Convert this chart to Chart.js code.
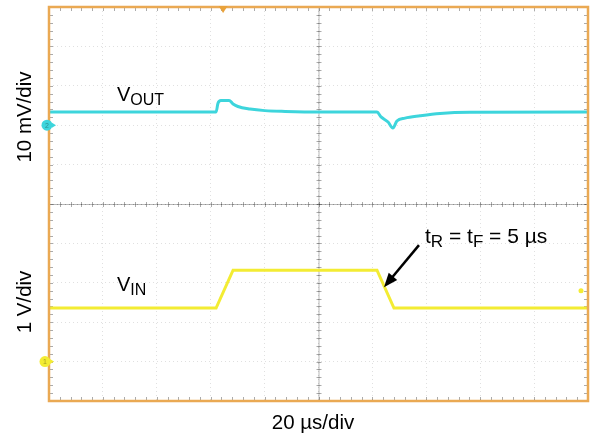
<!DOCTYPE html>
<html>
<head>
<meta charset="utf-8">
<title>VIN step response</title>
<script src="https://cdn.jsdelivr.net/npm/chart.js"></script>
<style>
  html, body { margin: 0; padding: 0; background: #fff; }
  #wrap { width: 591px; height: 435px; position: relative; }
</style>
</head>
<body>
<div id="wrap"><canvas id="scope"></canvas></div>
<script>
// time axis: 10 div x 20 us
const timeMin = 0;
const timeMax = 200;
const timeStep = 20;

// VIN (1 V/div) - trapezoid step, tR = tF = 5 us
const vinTime = [0, 62, 68.3, 121.7, 128, 200];
const vinVolts = [1.36, 1.36, 2.32, 2.32, 1.36, 1.36];

// VOUT (10 mV/div, AC) - load transient response
const voutTime = [0, 62.0, 62.7, 63.8, 66.8, 68.3, 70.1, 74.6, 80.1, 87.6, 100.6,
                  121.7, 123.2, 125.8, 127.6, 129.1, 132.1, 137.7, 145.1, 156.2, 200];
const voutMv = [3.35, 3.35, 5.6, 6.3, 6.3, 5.4, 4.75, 4.1, 3.7, 3.5, 3.35,
                3.35, 2.1, 0.8, -0.7, 1.05, 1.8, 2.4, 3.0, 3.3, 3.35];

// half-screen ranges of each channel
const voutRange = [-20, 30];
const vinRange = [-1, 4];

const cyan = '#3dd5dc';
const yellow = '#f3ec33';
const frameColor = '#eaa953';
const font = '"Liberation Sans", Arial, sans-serif';

function pts(xs, ys) {
    return xs.map((x, i) => ({ x: x, y: ys[i] }));
}

function gridColor(ctx) {
    return 'rgba(0,0,0,0.12)';
}

// draw the scope graticule extras, markers and labels
const scopePlugin = {
    id: 'scope',
    beforeDatasetsDraw(chart) {
        const { ctx, chartArea: a, scales } = chart;
        const cx = scales.x.getPixelForValue(100);
        const cy = scales.yOut.getPixelForValue(voutRange[0]);
        const divW = (a.right - a.left) / 10;
        const divH = (a.bottom - a.top) / 10;
        ctx.save();
        ctx.strokeStyle = 'rgba(0,0,0,0.28)';
        ctx.lineWidth = 1;
        ctx.beginPath();
        ctx.moveTo(cx + 0.5, a.top); ctx.lineTo(cx + 0.5, a.bottom);
        ctx.moveTo(a.left, cy + 0.5); ctx.lineTo(a.right, cy + 0.5);
        ctx.stroke();
        // minor ticks
        ctx.strokeStyle = 'rgba(0,0,0,0.33)';
        ctx.beginPath();
        for (let i = 1; i < 50; i++) {
            const x = Math.round(a.left + i * divW / 5) + 0.5;
            ctx.moveTo(x, cy - 2); ctx.lineTo(x, cy + 3);
            ctx.moveTo(x, a.top); ctx.lineTo(x, a.top + 4);
            ctx.moveTo(x, a.bottom - 4); ctx.lineTo(x, a.bottom);
            const y = Math.round(a.top + i * divH / 5) + 0.5;
            ctx.moveTo(cx - 2, y); ctx.lineTo(cx + 3, y);
            ctx.moveTo(a.left, y); ctx.lineTo(a.left + 4, y);
            ctx.moveTo(a.right - 4, y); ctx.lineTo(a.right, y);
        }
        ctx.stroke();
        ctx.restore();
    },
    afterDraw(chart) {
        const { ctx, chartArea: a, scales } = chart;
        ctx.save();
        // frame
        ctx.strokeStyle = frameColor;
        ctx.lineWidth = 2.5;
        ctx.strokeRect(a.left, a.top, a.right - a.left, a.bottom - a.top);

        // trigger marker
        const tx = scales.x.getPixelForValue(64.6);
        ctx.fillStyle = '#e9a23b';
        ctx.beginPath();
        ctx.moveTo(tx - 4.5, a.top - 1); ctx.lineTo(tx + 4.5, a.top - 1); ctx.lineTo(tx, a.top + 6);
        ctx.closePath(); ctx.fill();

        // channel ground markers
        function chMarker(y, col, label, dx) {
            ctx.fillStyle = col;
            ctx.beginPath(); ctx.arc(a.left - 2 + dx, y, 5.5, 0, Math.PI * 2); ctx.fill();
            ctx.beginPath();
            ctx.moveTo(a.left + 3 + dx, y - 2.5); ctx.lineTo(a.left + 7 + dx, y); ctx.lineTo(a.left + 3 + dx, y + 2.5);
            ctx.fill();
            ctx.fillStyle = 'rgba(0,0,0,0.35)';
            ctx.font = '7px ' + font;
            ctx.textAlign = 'center'; ctx.textBaseline = 'middle';
            ctx.fillText(label, a.left - 2 + dx, y + 0.5);
        }
        chMarker(scales.yOut.getPixelForValue(0), cyan, '2', 0);
        chMarker(scales.yIn.getPixelForValue(0), yellow, '1', -2);

        // right-side level dot
        ctx.fillStyle = yellow;
        ctx.beginPath(); ctx.arc(a.right - 7, scales.yIn.getPixelForValue(1.8), 2.5, 0, Math.PI * 2); ctx.fill();

        // text
        ctx.fillStyle = '#000';
        ctx.textAlign = 'left'; ctx.textBaseline = 'alphabetic';
        function sub(x, y, main, s, size) {
            ctx.font = size + 'px ' + font;
            ctx.fillText(main, x, y);
            const w = ctx.measureText(main).width;
            ctx.font = Math.round(size * 0.8) + 'px ' + font;
            ctx.fillText(s, x + w, y + 4);
            return x + w + ctx.measureText(s).width;
        }
        sub(117, 101, 'V', 'OUT', 20);
        sub(117, 291, 'V', 'IN', 20);

        const ts = 21;
        let x = sub(425, 243, 't', 'R', ts);
        ctx.font = ts + 'px ' + font;
        ctx.fillText(' = ', x, 243);
        x += ctx.measureText(' = ').width;
        x = sub(x, 243, 't', 'F', ts);
        ctx.font = ts + 'px ' + font;
        ctx.fillText(' = 5 \u00b5s', x, 243);

        // arrow to the falling edge
        const ax = scales.x.getPixelForValue(124.3);
        const ay = scales.yIn.getPixelForValue(1.89);
        const bx = ax + 35, by = ay - 42;
        const ang = Math.atan2(ay - by, ax - bx);
        ctx.strokeStyle = '#000';
        ctx.lineWidth = 2.5;
        ctx.beginPath();
        ctx.moveTo(bx, by);
        ctx.lineTo(ax - 10 * Math.cos(ang), ay - 10 * Math.sin(ang));
        ctx.stroke();
        ctx.fillStyle = '#000';
        ctx.beginPath();
        ctx.moveTo(ax, ay);
        ctx.lineTo(ax - 14 * Math.cos(ang) + 5.5 * Math.sin(ang), ay - 14 * Math.sin(ang) - 5.5 * Math.cos(ang));
        ctx.lineTo(ax - 14 * Math.cos(ang) - 5.5 * Math.sin(ang), ay - 14 * Math.sin(ang) + 5.5 * Math.cos(ang));
        ctx.closePath(); ctx.fill();

        // axis captions
        ctx.font = '20.5px ' + font;
        ctx.textAlign = 'center'; ctx.textBaseline = 'middle';
        ctx.fillText('20 \u00b5s/div', 313, 423);
        ctx.save();
        ctx.translate(25, 117); ctx.rotate(-Math.PI / 2);
        ctx.fillText('10 mV/div', 0, 0);
        ctx.restore();
        ctx.save();
        ctx.translate(25, 302); ctx.rotate(-Math.PI / 2);
        ctx.fillText('1 V/div', 0, 0);
        ctx.restore();
        ctx.restore();
    }
};

function axisY(range, step) {
    return {
        type: 'linear',
        position: 'left',
        stack: 'scope',
        stackWeight: 1,
        min: range[0],
        max: range[1],
        ticks: { display: false, stepSize: step },
        grid: { color: gridColor, drawTicks: false, lineWidth: 1 },
        border: { display: false, dash: [1, 3] }
    };
}

new Chart(document.getElementById('scope'), {
    type: 'line',
    data: {
        datasets: [
            {
                label: 'VOUT',
                data: pts(voutTime, voutMv),
                yAxisID: 'yOut',
                borderColor: cyan,
                borderWidth: 3,
                pointRadius: 0,
                cubicInterpolationMode: 'monotone'
            },
            {
                label: 'VIN',
                data: pts(vinTime, vinVolts),
                yAxisID: 'yIn',
                borderColor: yellow,
                borderWidth: 3,
                pointRadius: 0,
                tension: 0
            }
        ]
    },
    options: {
        responsive: true,
        maintainAspectRatio: false,
        animation: false,
        layout: { padding: { left: 49, top: 7, right: 3, bottom: 34 } },
        plugins: { legend: { display: false }, tooltip: { enabled: false } },
        scales: {
            x: {
                type: 'linear',
                min: timeMin,
                max: timeMax,
                ticks: { display: false, stepSize: timeStep },
                grid: { color: gridColor, drawTicks: false, lineWidth: 1 },
                border: { display: false, dash: [1, 3] }
            },
            yIn: axisY(vinRange, 1),
            yOut: axisY(voutRange, 10)
        }
    },
    plugins: [scopePlugin]
});
</script>
</body>
</html>
